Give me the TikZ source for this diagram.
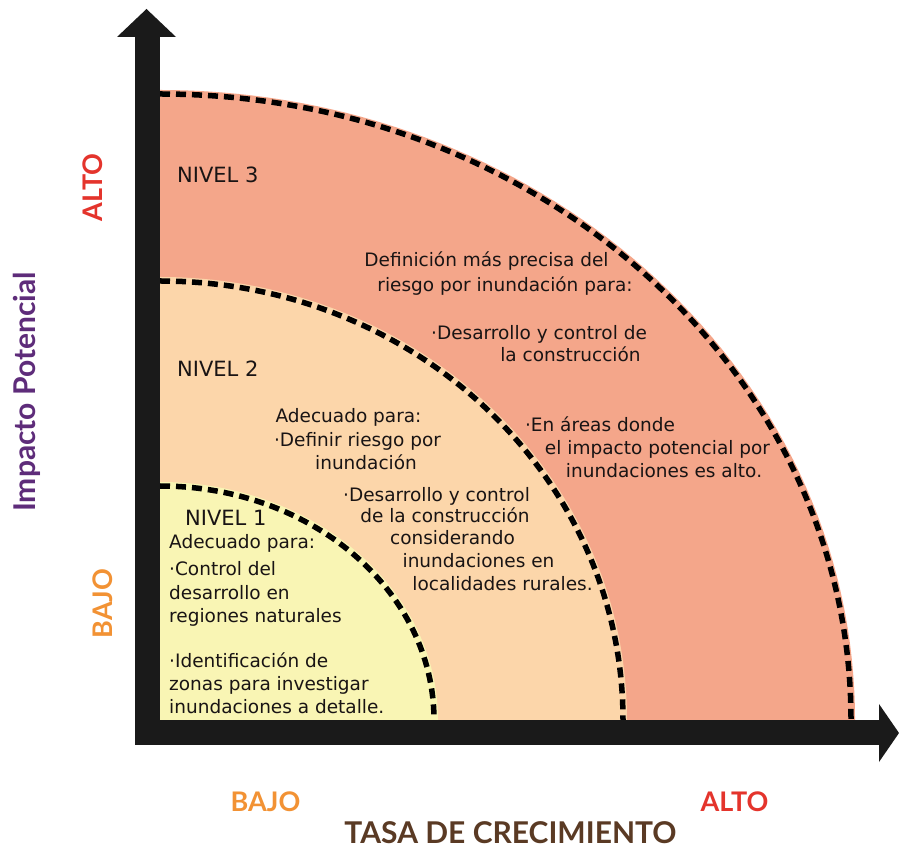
\documentclass[tikz,border=0pt]{standalone}
\usepackage{fontspec}
\setmainfont{DejaVu Sans}
\newfontfamily\lato{Lato}
\definecolor{lvlonec}{RGB}{249,245,180}
\definecolor{lvltwoc}{RGB}{252,214,170}
\definecolor{lvlthreec}{RGB}{244,166,138}
\definecolor{axisc}{RGB}{26,26,26}
\definecolor{txtc}{RGB}{25,20,20}
\definecolor{altoc}{RGB}{228,52,44}
\definecolor{bajoc}{RGB}{242,146,52}
\definecolor{purplec}{RGB}{94,44,122}
\definecolor{brownc}{RGB}{90,58,36}
\tikzset{
  axisfill/.style={fill=axisc},
  dashline/.style={draw=black, line width=5.5pt, dash pattern=on 10pt off 6pt},
  lvltext/.style={font=\fontsize{18.5}{21}\selectfont, inner sep=0pt, text=txtc},
  niveltext/.style={font=\fontsize{21}{24}\selectfont, inner sep=0pt, text=txtc, anchor=base west},
  axlabel/.style={font=\lato\bfseries\fontsize{27}{30}\selectfont, inner sep=0pt},
  axtitle/.style={font=\lato\bfseries\fontsize{30}{34}\selectfont, inner sep=0pt}
}
\begin{document}
\begin{tikzpicture}[x=1pt,y=1pt]
\useasboundingbox (0,0) rectangle (899,852);
\coordinate (O) at (160,132);
% regions
\fill[lvlthreec] (O) -- (160,762) arc[start angle=90,end angle=0,x radius=695,y radius=630] -- cycle;
\fill[lvltwoc] (O) -- (160,575) arc[start angle=90,end angle=0,x radius=467,y radius=443] -- cycle;
\fill[lvlonec] (O) -- (160,370) arc[start angle=90,end angle=0,x radius=278,y radius=238] -- cycle;
% dashed borders
\draw[dashline] (160,758) arc[start angle=90,end angle=0,x radius=691,y radius=626];
\draw[dashline] (160,571) arc[start angle=90,end angle=0,x radius=463,y radius=439];
\draw[dashline] (160,366) arc[start angle=90,end angle=0,x radius=274,y radius=234];
% axes
\coordinate (corner) at (135,107);
\coordinate (ytop) at (160,815);
\coordinate (xend) at (880,132);
\coordinate (ytip) at (146.5,843);
\coordinate (xtip) at (899,119);
\fill[axisfill] (corner) rectangle (ytop);
\fill[axisfill] (corner) rectangle (xend);
\fill[axisfill] (117,815) -- (ytip) -- (176,815) -- cycle;
\fill[axisfill] (879,148) -- (xtip) -- (879,90) -- cycle;
% level 3
\node[niveltext] (n3) at (177,669) {NIVEL 3};
\node[lvltext, anchor=base] (t3a) at (486.5,585) {Definición más precisa del};
\node[lvltext, anchor=base] (t3b) at (505,560) {riesgo por inundación para:};
\node[lvltext, anchor=base] (t3c) at (539,512) {·Desarrollo y control de};
\node[lvltext, anchor=base] (t3d) at (570.5,490) {la construcción};
\node[lvltext, anchor=base] (t3e) at (600,420) {·En áreas donde};
\node[lvltext, anchor=base] (t3f) at (657.5,397) {el impacto potencial por};
\node[lvltext, anchor=base] (t3g) at (664,374) {inundaciones es alto.};
% level 2
\node[niveltext] (n2) at (177,475) {NIVEL 2};
\node[lvltext, anchor=base] (t2a) at (348.5,429) {Adecuado para:};
\node[lvltext, anchor=base] (t2b) at (357.5,405) {·Definir riesgo por};
\node[lvltext, anchor=base] (t2c) at (366,382) {inundación};
\node[lvltext, anchor=base] (t2d) at (436.5,350) {·Desarrollo y control};
\node[lvltext, anchor=base] (t2e) at (445,329) {de la construcción};
\node[lvltext, anchor=base] (t2f) at (452.5,307) {considerando};
\node[lvltext, anchor=base] (t2g) at (478.5,284) {inundaciones en};
\node[lvltext, anchor=base] (t2h) at (502.5,262) {localidades rurales.};
% level 1
\node[niveltext] (n1) at (185,326) {NIVEL 1};
\node[lvltext, anchor=base west] (t1a) at (169,304) {Adecuado para:};
\node[lvltext, anchor=base west] (t1b) at (169,277) {·Control del};
\node[lvltext, anchor=base west] (t1c) at (169,253) {desarrollo en};
\node[lvltext, anchor=base west] (t1d) at (169,230) {regiones naturales};
\node[lvltext, anchor=base west] (t1e) at (169,185) {·Identificación de};
\node[lvltext, anchor=base west] (t1f) at (169,162) {zonas para investigar};
\node[lvltext, anchor=base west] (t1g) at (169,139) {inundaciones a detalle.};
% axis labels
\node[axlabel, text=altoc, rotate=90] (yalto) at (92.5,664.5) {ALTO};
\node[axlabel, text=bajoc, rotate=90] (ybajo) at (102.5,248.5) {BAJO};
\node[axtitle, text=purplec, rotate=90] (ytitle) at (27,460) {Impacto Potencial};
\node[axlabel, text=bajoc] (xbajo) at (265.5,50) {BAJO};
\node[axlabel, text=altoc] (xalto) at (734.5,50) {ALTO};
\node[axtitle, text=brownc] (xtitle) at (510.5,19) {TASA DE CRECIMIENTO};
\end{tikzpicture}
\end{document}
